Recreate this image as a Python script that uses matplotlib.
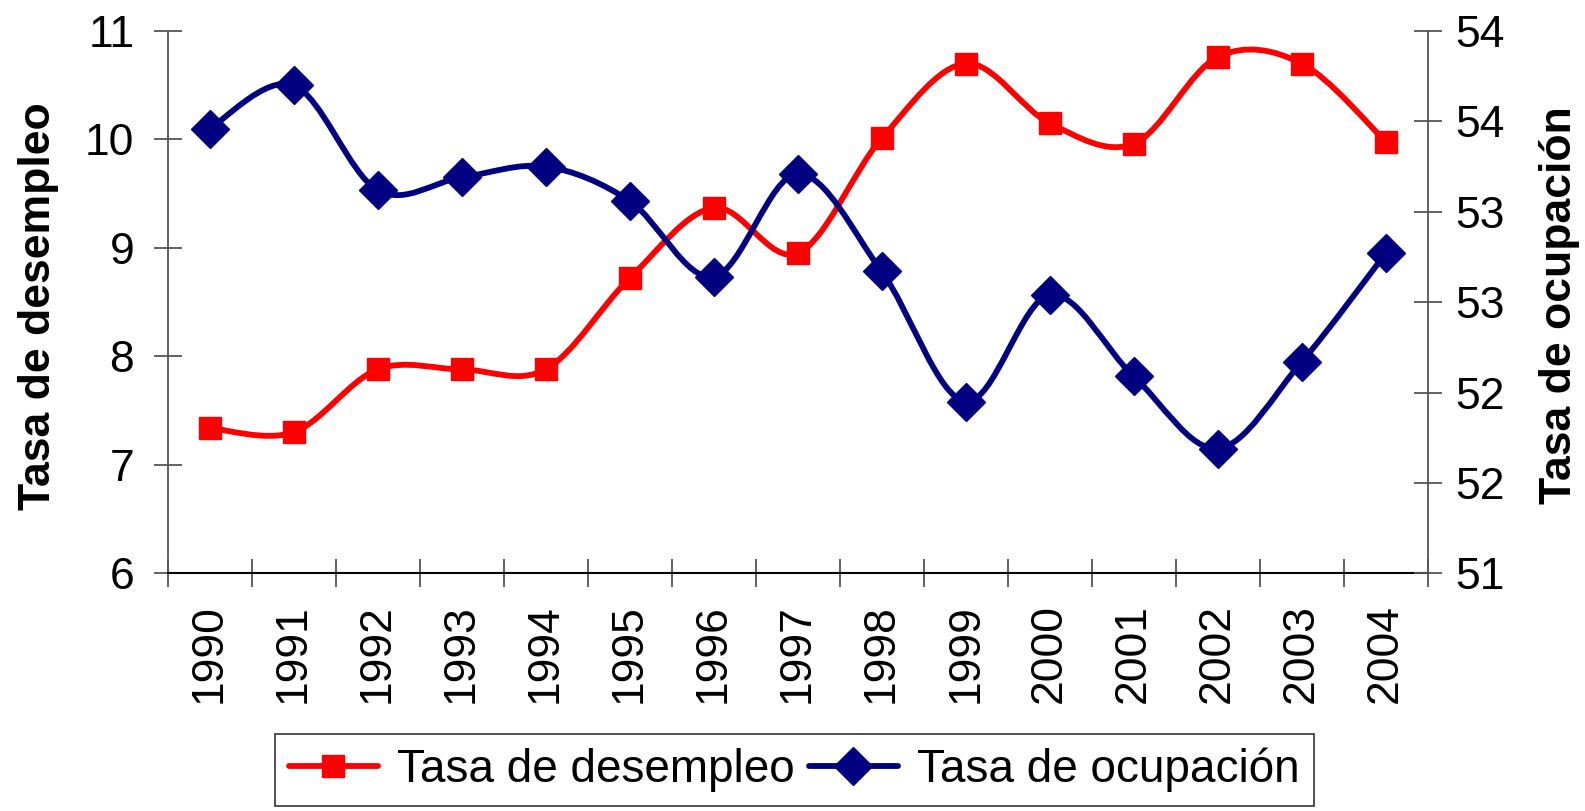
import numpy as np
import matplotlib
matplotlib.use('Agg')
from matplotlib import pyplot as plt
from matplotlib.path import Path
from matplotlib.patches import PathPatch
from matplotlib.lines import Line2D
from matplotlib.ticker import FixedLocator, FixedFormatter

plt.rcParams['font.family'] = ['Liberation Sans', 'DejaVu Sans']

years = ['1990', '1991', '1992', '1993', '1994', '1995', '1996', '1997',
         '1998', '1999', '2000', '2001', '2002', '2003', '2004']
desempleo = [7.34, 7.30, 7.88, 7.88, 7.88, 8.72, 9.37, 8.95,
             10.01, 10.70, 10.15, 9.96, 10.76, 10.70, 9.98]
ocupacion = [53.46, 53.70, 53.12, 53.19, 53.25, 53.06, 52.64, 53.21,
             52.67, 51.95, 52.54, 52.09, 51.69, 52.17, 52.77]

left_ticks = [6, 7, 8, 9, 10, 11]
right_ticks = [51, 51.5, 52, 52.5, 53, 53.5, 54]
right_labels = ['51', '52', '52', '53', '53', '54', '54']

RED = '#FF0000'
NAVY = '#000080'
AXC = '#555555'


def smooth_path(x, y):
    # excel-like smoothed line (cubic bezier through the points)
    n = len(x)
    verts = [(x[0], y[0])]
    codes = [Path.MOVETO]
    for i in range(n - 1):
        a = max(i - 1, 0)
        b = min(i + 2, n - 1)
        c1 = (x[i] + (x[i + 1] - x[a]) / 6, y[i] + (y[i + 1] - y[a]) / 6)
        c2 = (x[i + 1] - (x[b] - x[i]) / 6, y[i + 1] - (y[b] - y[i]) / 6)
        verts += [c1, c2, (x[i + 1], y[i + 1])]
        codes += [Path.CURVE4] * 3
    return Path(verts, codes)


fig = plt.figure(figsize=(15.85, 8.11), dpi=100)
ax = fig.add_axes([0.10568, 0.29310, 0.79508, 0.66868])
ax2 = ax.twinx()

xs = np.arange(len(years))

ax.add_patch(PathPatch(smooth_path(xs, desempleo), fill=False, edgecolor=RED,
                       lw=4.2, capstyle='round', joinstyle='round', zorder=3))
ax.plot(xs, desempleo, ls='none', marker='s', ms=15.5, color=RED, mec=RED, zorder=4)

ax2.add_patch(PathPatch(smooth_path(xs, ocupacion), fill=False, edgecolor=NAVY,
                        lw=4.2, capstyle='round', joinstyle='round', zorder=3))
ax2.plot(xs, ocupacion, ls='none', marker='D', ms=19.5, color=NAVY, mec=NAVY, zorder=4)

ax.set_xlim(-0.5, len(years) - 0.5)
ax.set_ylim(6, 11)
ax2.set_ylim(51, 54)

# x axis: labels at centers, tick marks between categories
ax.set_xticks(xs)
ax.set_xticklabels(years, rotation=90, fontsize=32)
ax.tick_params(axis='x', which='major', length=0, pad=22)
ax.xaxis.set_minor_locator(FixedLocator(np.arange(-0.5, len(years), 1.0)))
ax.tick_params(axis='x', which='minor', direction='inout', length=20,
               width=1.3, color=AXC)

ax.set_yticks(left_ticks)
ax.set_yticklabels([str(t) for t in left_ticks], fontsize=32)
ax.tick_params(axis='y', direction='inout', length=20, width=1.3, color=AXC, pad=14)

ax2.yaxis.set_major_locator(FixedLocator(right_ticks))
ax2.yaxis.set_major_formatter(FixedFormatter(right_labels))
ax2.tick_params(axis='y', direction='inout', length=20, width=1.3, color=AXC,
                pad=10, labelsize=32)

for a in (ax, ax2):
    a.spines['top'].set_visible(False)
ax.spines['right'].set_visible(False)
ax.spines['left'].set_color(AXC)
ax.spines['left'].set_linewidth(1.3)
ax.spines['bottom'].set_color('black')
ax.spines['bottom'].set_linewidth(1.5)
ax2.spines['left'].set_visible(False)
ax2.spines['bottom'].set_visible(False)
ax2.spines['right'].set_color(AXC)
ax2.spines['right'].set_linewidth(1.3)

fig.text(39 / 1585, 1 - 306 / 811, 'Tasa de desempleo', rotation=90,
         ha='center', va='center', fontsize=32, fontweight='bold')
fig.text(1559 / 1585, 1 - 305 / 811, 'Tasa de ocupación', rotation=90,
         ha='center', va='center', fontsize=32, fontweight='bold')

handles = [
    Line2D([], [], color=RED, lw=4.2, marker='s', ms=15.5, solid_capstyle='round'),
    Line2D([], [], color=NAVY, lw=4.2, marker='D', ms=19.5, solid_capstyle='round'),
]
leg = fig.legend(handles, ['Tasa de desempleo', 'Tasa de ocupación'],
                 loc='upper left', bbox_to_anchor=(275 / 1585, 1 - 734 / 811),
                 ncol=2, fontsize=33, frameon=True, fancybox=False,
                 handlelength=1.95, handletextpad=0.42, columnspacing=0.3,
                 borderpad=0.3, borderaxespad=0)
leg.get_frame().set_edgecolor('black')
leg.get_frame().set_linewidth(1.2)

plt.savefig('out.png', dpi=100)
